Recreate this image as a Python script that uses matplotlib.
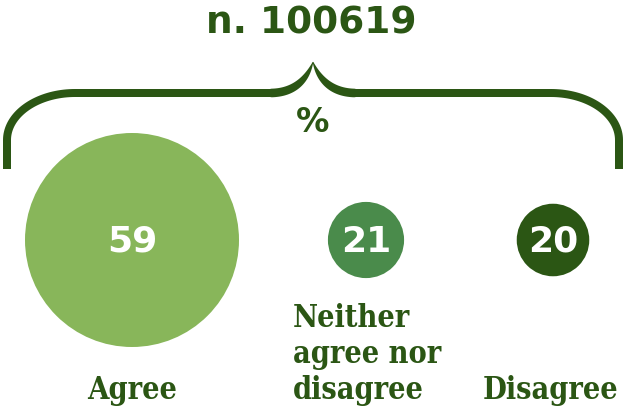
import numpy as np
import matplotlib.pyplot as plt
from matplotlib.patches import Circle, Polygon

# data
categories = ["Agree", "Neither\nagree nor\ndisagree", "Disagree"]
values = [59, 21, 20]
n_total = 100619
unit = "%"

# style
colors = ["#88b65a", "#4a8b4b", "#2b5614"]
dark = "#2b5614"
x_pos = [132, 366, 553]   # circle centres (px)
y_circ = 240
r_scale = 107 / 59        # radius proportional to value

fig = plt.figure(figsize=(6.24, 4.07), dpi=100)
ax = fig.add_axes([0, 0, 1, 1])
ax.set_xlim(0, 624)
ax.set_ylim(407, 0)
ax.axis("off")

# circles and values
for x, v, c in zip(x_pos, values, colors):
    ax.add_patch(Circle((x, y_circ), v * r_scale, color=c, lw=0))
    ax.text(x, y_circ + 2, str(v), ha="center", va="center", color="white",
            fontsize=26, fontweight="bold", family="DejaVu Sans")

# labels under circles
lab_kw = dict(color=dark, fontsize=22, fontweight="bold", family="DejaVu Serif",
              fontstretch="condensed", va="baseline")
ax.text(x_pos[0], 399, categories[0], ha="center", **lab_kw)
for i, line in enumerate(categories[1].split("\n")):
    ax.text(293, 327 + 36 * i, line, ha="left", **lab_kw)
ax.text(551, 399, categories[2], ha="center", **lab_kw)

# title and unit
ax.text(311, 23, f"n. {n_total}", ha="center", va="center", color=dark,
        fontsize=27, fontweight="bold", family="DejaVu Sans")
ax.text(313, 122, unit, ha="center", va="center", color=dark,
        fontsize=24, fontweight="bold", family="DejaVu Sans")

# curly brace as a filled shape (left half, then mirrored)
seg1 = np.column_stack([np.full(10, 7.0), np.linspace(169, 140, 10)])
t = np.linspace(np.pi, 1.5 * np.pi, 40)
seg2 = np.column_stack([75 + 68 * np.cos(t), 140 + 47 * np.sin(t)])
seg3 = np.column_stack([np.linspace(75, 270, 30), np.full(30, 93.0)])
s = np.linspace(0, 1, 40)
p0, p1, p2 = np.array([270, 93]), np.array([302, 93]), np.array([313, 62])
seg4 = ((1 - s) ** 2)[:, None] * p0 + (2 * (1 - s) * s)[:, None] * p1 + (s ** 2)[:, None] * p2
pts = np.vstack([seg1, seg2[1:], seg3[1:], seg4[1:]])
w = np.full(len(pts), 8.0)
nb = len(seg4) - 1
w[-nb:] = 8.0 * (1 - s[1:] ** 3) + 0.6
d = np.gradient(pts, axis=0)
nrm = np.column_stack([-d[:, 1], d[:, 0]])
nrm /= np.linalg.norm(nrm, axis=1)[:, None]
outline = np.vstack([pts + nrm * w[:, None] / 2, (pts - nrm * w[:, None] / 2)[::-1]])
ax.add_patch(Polygon(outline, closed=True, color=dark, lw=0))
mirror = outline.copy()
mirror[:, 0] = 2 * 313 - mirror[:, 0]
ax.add_patch(Polygon(mirror, closed=True, color=dark, lw=0))

fig.savefig("out.png", dpi=100)
